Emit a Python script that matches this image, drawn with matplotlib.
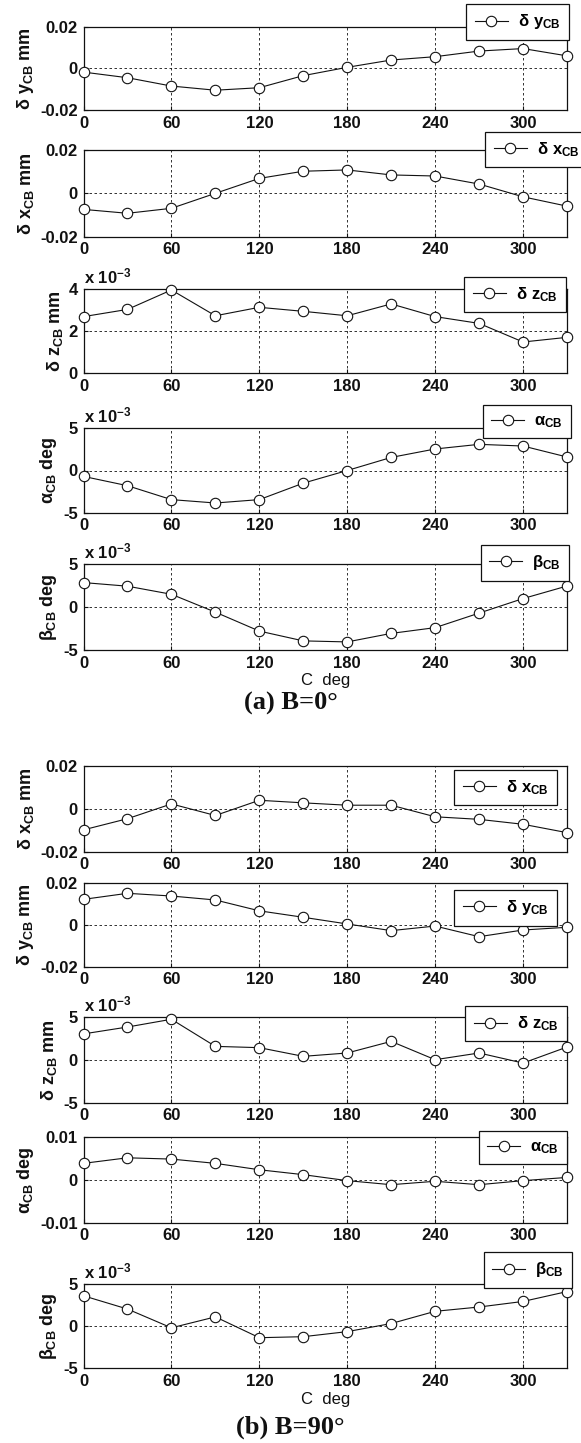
import matplotlib
matplotlib.use('Agg')
import matplotlib.pyplot as plt

plt.rcParams['font.family'] = ['Liberation Sans', 'DejaVu Sans']
plt.rcParams['mathtext.fontset'] = 'custom'
plt.rcParams['mathtext.rm'] = 'Liberation Sans:bold'
plt.rcParams['mathtext.it'] = 'Liberation Sans:bold'
plt.rcParams['mathtext.bf'] = 'Liberation Sans:bold'

# C angle (deg)
c_deg = [0, 30, 60, 90, 120, 150, 180, 210, 240, 270, 300, 330]

# (a) B = 0 deg
a_dy = [-0.0018, -0.0045, -0.0085, -0.0105, -0.0093, -0.0035,
        0.0005, 0.0040, 0.0056, 0.0083, 0.0095, 0.0060]
a_dx = [-0.0074, -0.0092, -0.0069, 0.0000, 0.0069, 0.0102,
        0.0108, 0.0085, 0.0080, 0.0043, -0.0016, -0.0059]
a_dz = [2.68, 3.02, 3.94, 2.72, 3.12, 2.93, 2.72, 3.28, 2.68, 2.36, 1.48, 1.70]   # x 10^-3
a_alpha = [-0.7, -1.8, -3.45, -3.85, -3.45, -1.5, 0.0, 1.55, 2.55, 3.1, 2.9, 1.6]  # x 10^-3
a_beta = [2.84, 2.42, 1.48, -0.6, -2.8, -3.94, -4.06, -3.07, -2.4, -0.71, 0.98, 2.44]  # x 10^-3

# (b) B = 90 deg
b_dx = [-0.0098, -0.0046, 0.0023, -0.0031, 0.0040, 0.0028,
        0.0017, 0.0017, -0.0037, -0.0049, -0.0072, -0.0111]
b_dy = [0.0123, 0.0152, 0.0139, 0.0120, 0.0068, 0.0037,
        0.0005, -0.0027, -0.0005, -0.0056, -0.0024, -0.0011]
b_dz = [3.0, 3.8, 4.7, 1.55, 1.4, 0.39, 0.78, 2.13, 0.0, 0.78, -0.39, 1.47]  # x 10^-3
b_alpha = [0.0039, 0.0052, 0.0049, 0.0039, 0.0024, 0.00125,
           -0.00015, -0.0011, -0.0003, -0.0011, -0.00015, 0.0006]
b_beta = [3.6, 2.03, -0.2, 1.1, -1.37, -1.25, -0.65, 0.31, 1.76, 2.27, 2.93, 4.1]  # x 10^-3

W, H = 581, 1443
fig = plt.figure(figsize=(W / 100, H / 100), dpi=100)
fig.patch.set_facecolor('white')

LEFT, RIGHT = 83.5, 567
INK = '#111111'


def panel(top, bottom, y, ylim, yticks, yticklabels, ylabel, leg, leg_xy,
          sci=False, xlabel=False):
    ax = fig.add_axes([LEFT / W, 1 - bottom / H, (RIGHT - LEFT) / W, (bottom - top) / H])
    ax.plot(c_deg, y, '-o', color=INK, lw=0.8, ms=7.5,
            mfc='white', mec=INK, mew=0.8, label=leg, clip_on=False, zorder=3)
    ax.set_xlim(0, 330)
    ax.set_ylim(*ylim)
    ax.set_xticks([0, 60, 120, 180, 240, 300])
    ax.set_xticklabels(['0', '60', '120', '180', '240', '300'])
    ax.set_yticks(yticks)
    ax.set_yticklabels(yticklabels)
    ax.tick_params(direction='in', length=3, labelsize=12, pad=4, colors=INK)
    for lab in ax.get_xticklabels() + ax.get_yticklabels():
        lab.set_fontweight('bold')
    ax.grid(True, color=INK, ls=(0, (3, 3)), lw=0.6)
    for s in ax.spines.values():
        s.set_linewidth(0.9)
        s.set_color(INK)
    ax.set_ylabel(ylabel, fontsize=13, fontweight='bold', labelpad=3, color=INK)
    if sci:
        ax.text(0.0, 1.03, r'x 10$^{-3}$', transform=ax.transAxes, color=INK,
                fontsize=12, fontweight='bold', ha='left', va='bottom')
    if xlabel:
        ax.set_xlabel('C  deg', fontsize=12, labelpad=2, color=INK)
    ax.legend(loc='upper right', bbox_to_anchor=(leg_xy[0] / W, 1 - leg_xy[1] / H),
              bbox_transform=fig.transFigure, fancybox=False, framealpha=1,
              edgecolor=INK, fontsize=12, handlelength=2.0,
              borderpad=0.5, handletextpad=0.6, borderaxespad=0)
    ax.get_legend().get_frame().set_linewidth(0.9)
    return ax


p2 = ['-0.02', '0', '0.02']
p5 = ['-5', '0', '5']

panel(26.7, 110, a_dy, (-0.02, 0.02), [-0.02, 0, 0.02], p2,
      r'$\delta\ y_{CB}$ mm', r'$\delta\ y_{CB}$', (569, 4))
panel(150, 236.7, a_dx, (-0.02, 0.02), [-0.02, 0, 0.02], p2,
      r'$\delta\ x_{CB}$ mm', r'$\delta\ x_{CB}$', (588, 132))
panel(288.7, 373.3, a_dz, (0, 4), [0, 2, 4], ['0', '2', '4'],
      r'$\delta\ z_{CB}$ mm', r'$\delta\ z_{CB}$', (566, 277), sci=True)
panel(428.3, 512.7, a_alpha, (-5, 5), [-5, 0, 5], p5,
      r'$\alpha_{CB}$ deg', r'$\alpha_{CB}$', (571, 405), sci=True)
panel(564, 650, a_beta, (-5, 5), [-5, 0, 5], p5,
      r'$\beta_{CB}$ deg', r'$\beta_{CB}$', (569, 545), sci=True, xlabel=True)
fig.text(0.5, 1 - 703 / H, r'(a) B=0°', ha='center', va='center', color=INK,
         family='Liberation Serif', fontweight='bold', fontsize=19)

panel(766, 851.7, b_dx, (-0.02, 0.02), [-0.02, 0, 0.02], p2,
      r'$\delta\ x_{CB}$ mm', r'$\delta\ x_{CB}$', (557, 770))
panel(883.3, 966.7, b_dy, (-0.02, 0.02), [-0.02, 0, 0.02], p2,
      r'$\delta\ y_{CB}$ mm', r'$\delta\ y_{CB}$', (557, 890))
panel(1016.7, 1102.7, b_dz, (-5, 5), [-5, 0, 5], p5,
      r'$\delta\ z_{CB}$ mm', r'$\delta\ z_{CB}$', (567, 1006), sci=True)
panel(1137.3, 1222.7, b_alpha, (-0.01, 0.01), [-0.01, 0, 0.01], ['-0.01', '0', '0.01'],
      r'$\alpha_{CB}$ deg', r'$\alpha_{CB}$', (567, 1131))
panel(1284, 1368.3, b_beta, (-5, 5), [-5, 0, 5], p5,
      r'$\beta_{CB}$ deg', r'$\beta_{CB}$', (572, 1252), sci=True, xlabel=True)
fig.text(0.5, 1 - 1427 / H, r'(b) B=90°', ha='center', va='center', color=INK,
         family='Liberation Serif', fontweight='bold', fontsize=19)

fig.savefig('out.png', dpi=100, facecolor='white')
